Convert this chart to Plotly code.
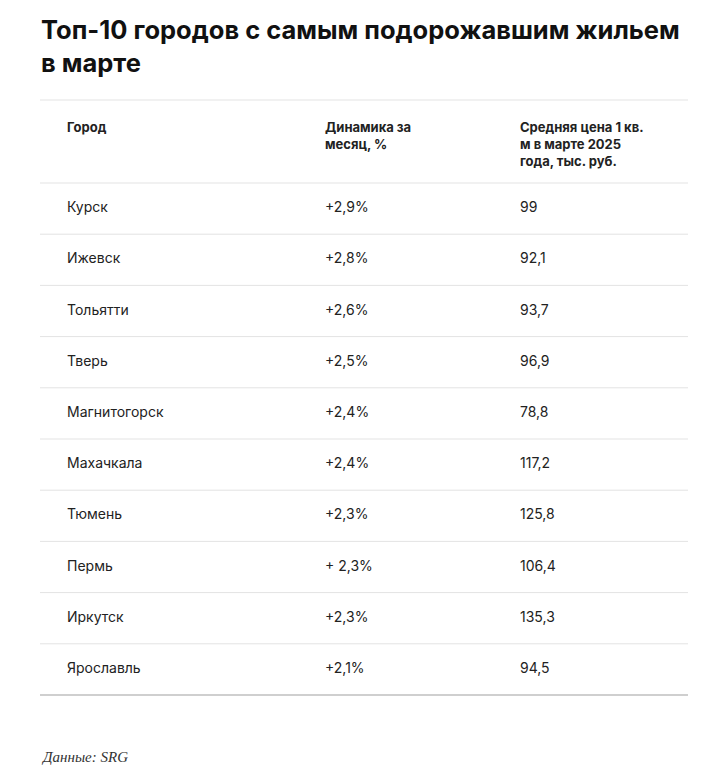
import plotly.graph_objects as go

cities = ["Курск","Ижевск","Тольятти","Тверь","Магнитогорск","Махачкала","Тюмень","Пермь","Иркутск","Ярославль"]
dynamics = ["+2,9%","+2,8%","+2,6%","+2,5%","+2,4%","+2,4%","+2,3%","+ 2,3%","+2,3%","+2,1%"]
prices = ["99","92,1","93,7","96,9","78,8","117,2","125,8","106,4","135,3","94,5"]
headers = ["Город","Динамика за<br>месяц, %","Средняя цена 1 кв.<br>м в марте 2025<br>года, тыс. руб."]

W, H = 728, 774
off = 8  # page body margin
col_x = [66, 324, 519]
top, head_h, row_h = 100, 83, 51.2
left, right = 40, 688
font = "Inter, Roboto, sans-serif"

fig = go.Figure()
row_y = [top + head_h + row_h * (i + 0.5) for i in range(len(cities))]
for cx, vals in zip(col_x, [cities, dynamics, prices]):
    fig.add_trace(go.Scatter(x=[cx + 1]*len(vals), y=row_y, mode="text", text=vals,
                             textposition="middle right",
                             textfont=dict(family=font, size=14, color="#222")))
for cx, h in zip(col_x, headers):
    fig.add_annotation(x=cx - 1, y=top + 17, text="<b>"+h+"</b>", showarrow=False,
                       xanchor="left", yanchor="top", align="left",
                       font=dict(family=font, size=13, color="#222"))
lines = [top, top + head_h] + [top + head_h + row_h * (i + 1) for i in range(len(cities) - 1)]
for ly in lines:
    fig.add_shape(type="line", x0=left, x1=right, y0=ly, y1=ly, line=dict(color="#e3e3e3", width=1))
bottom = top + head_h + row_h * len(cities)
fig.add_shape(type="line", x0=left, x1=right, y0=bottom, y1=bottom, line=dict(color="#cfcfcf", width=2))
fig.add_annotation(x=39, y=12, text="<b>Топ-10 городов с самым подорожавшим жильем<br>в марте</b>",
                   showarrow=False, xanchor="left", yanchor="top", align="left",
                   font=dict(family=font, size=25.5, color="#111", weight=800))
fig.add_annotation(x=39, y=757, text="<i>Данные: SRG</i>", showarrow=False, xanchor="left", yanchor="middle",
                   font=dict(family="Liberation Serif, serif", size=15, color="#333"))
fig.update_layout(width=W, height=H, margin=dict(l=0, r=0, t=0, b=0), showlegend=False,
                  paper_bgcolor="white", plot_bgcolor="white",
                  xaxis=dict(range=[off, W + off], visible=False, fixedrange=True),
                  yaxis=dict(range=[H + off, off], visible=False, fixedrange=True))
fig.write_html("out.html")
